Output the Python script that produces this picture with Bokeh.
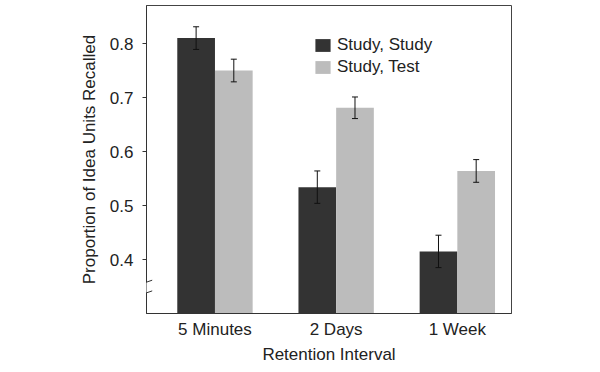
from bokeh.plotting import figure
from bokeh.models import (ColumnDataSource, FixedTicker, Range1d, Whisker, TeeHead,
                          Legend, LegendItem, BoxAnnotation, Arrow)
from bokeh.transform import dodge
from bokeh.embed import file_html
from bokeh.resources import INLINE

# ---- data ----
categories = ["5 Minutes", "2 Days", "1 Week"]
study_study = [0.810, 0.534, 0.415]
study_test = [0.750, 0.681, 0.564]
study_study_err = [0.021, 0.030, 0.030]
study_test_err = [0.021, 0.020, 0.021]
y_ticks = [0.4, 0.5, 0.6, 0.7, 0.8]
series_names = ["Study, Study", "Study, Test"]

FONT = "Liberation Sans"
TXT = "#222222"
DARK = "#333333"
LIGHT = "#bcbcbc"

idx = list(range(len(categories)))
src = ColumnDataSource(dict(
    x=idx,
    ss=study_study,
    st=study_test,
    ss_hi=[v + e for v, e in zip(study_study, study_study_err)],
    ss_lo=[v - e for v, e in zip(study_study, study_study_err)],
    st_hi=[v + e for v, e in zip(study_test, study_test_err)],
    st_lo=[v - e for v, e in zip(study_test, study_test_err)],
))

p = figure(width=600, height=372, output_backend="svg", toolbar_location=None,
           x_range=Range1d(-0.565, 2.447), y_range=Range1d(0.3, 0.8704),
           min_border_left=146, min_border_right=89, min_border_top=5,
           min_border_bottom=59)
p.grid.visible = False
p.outline_line_color = "#444444"
p.outline_line_width = 1
p.background_fill_color = "white"

W = 0.311
OFF = 0.1555
r1 = p.vbar(x=dodge("x", -OFF, range=p.x_range), top="ss", bottom=0.3, width=W,
            source=src, fill_color=DARK, line_color=None)
r2 = p.vbar(x=dodge("x", OFF, range=p.x_range), top="st", bottom=0.3, width=W,
            source=src, fill_color=LIGHT, line_color=None)

for base_off, hi, lo in [(-OFF, "ss_hi", "ss_lo"), (OFF, "st_hi", "st_lo")]:
    w = Whisker(base=dodge("x", base_off, range=p.x_range), upper=hi, lower=lo,
                source=src, line_color="#111111", line_width=1, level="overlay",
                upper_head=TeeHead(size=6, line_color="#111111", line_width=1),
                lower_head=TeeHead(size=6, line_color="#111111", line_width=1))
    p.add_layout(w)

# axes
xa = p.xaxis[0]
xa.ticker = FixedTicker(ticks=idx)
xa.major_label_overrides = {i: c for i, c in zip(idx, categories)}
xa.major_tick_line_color = None
xa.minor_tick_line_color = None
xa.axis_line_color = "#333333"
xa.major_label_text_font = FONT
xa.major_label_text_font_size = "17px"
xa.major_label_text_color = TXT
xa.major_label_standoff = 0
xa.axis_label = "Retention Interval"
xa.axis_label_text_font = FONT
xa.axis_label_text_font_size = "17px"
xa.axis_label_text_font_style = "normal"
xa.axis_label_text_color = TXT
xa.axis_label_standoff = 3

ya = p.yaxis[0]
ya.ticker = FixedTicker(ticks=y_ticks)
ya.minor_tick_line_color = None
ya.major_tick_out = 4
ya.major_tick_in = 0
ya.major_tick_line_color = "#333333"
ya.axis_line_color = "#333333"
ya.major_label_text_font = FONT
ya.major_label_text_font_size = "17px"
ya.major_label_text_color = TXT
ya.major_label_standoff = 9
ya.axis_label = "Proportion of Idea Units Recalled"
ya.axis_label_text_font = FONT
ya.axis_label_text_font_size = "17px"
ya.axis_label_text_font_style = "normal"
ya.axis_label_text_color = TXT
ya.axis_label_standoff = 8

# axis break marks (screen units, relative to frame, y from bottom)
p.add_layout(BoxAnnotation(left=-2, right=2, bottom=21, top=31,
                           left_units="screen", right_units="screen",
                           top_units="screen", bottom_units="screen",
                           fill_color="white", fill_alpha=1, line_color=None,
                           level="overlay"))
for y0 in (28.7, 18.0):
    p.add_layout(Arrow(end=None, start=None, x_start=-7.7, y_start=y0,
                       x_end=5.7, y_end=y0 + 4.6,
                       start_units="screen", end_units="screen",
                       line_color="#333333", line_width=1, level="overlay"))

legend = Legend(items=[LegendItem(label=series_names[0], renderers=[r1]),
                       LegendItem(label=series_names[1], renderers=[r2])],
                location=(167, 236), padding=0, margin=0, spacing=2,
                glyph_width=19, glyph_height=16, label_height=16,
                label_standoff=5, border_line_color=None,
                background_fill_alpha=0,
                label_text_font=FONT, label_text_font_size="17px",
                label_text_color=TXT)
p.add_layout(legend)

open("out.html", "w").write(file_html(p, INLINE))
